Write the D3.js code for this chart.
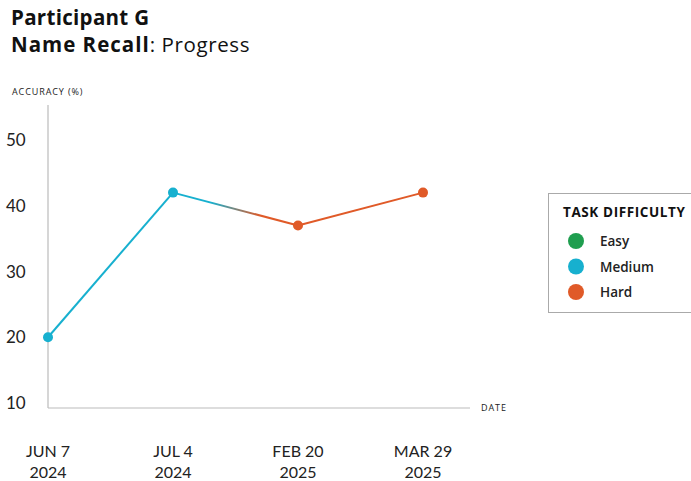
<!DOCTYPE html>
<html><head><meta charset="utf-8">
<script src="https://cdn.jsdelivr.net/npm/d3@7"></script>
<style>body{margin:0;background:#fff;} text{font-family:Lato,"Open Sans",sans-serif;} .os{font-family:"Open Sans",sans-serif;}</style>
</head><body><svg id="c" width="691" height="481"></svg>
<script>
const dates = ["JUN 7|2024","JUL 4|2024","FEB 20|2025","MAR 29|2025"];
const accuracy = [20, 42, 37, 42];
const difficulty = ["Medium","Medium","Hard","Hard"];
const yTicks = [10,20,30,40,50];
const legendItems = ["Easy","Medium","Hard"];
const colors = {Easy:"#1f9e4f", Medium:"#17b0cf", Hard:"#e05a28"};

const svg = d3.select("#c");
const x = d3.scalePoint().domain(dates).range([48,423]);
const y = d3.scaleLinear().domain([10,50]).range([403,140]);

// title
svg.append("text").attr("class","os").attr("x",11).attr("y",25).attr("font-size",20.5).attr("letter-spacing",0.3).attr("font-weight",700).attr("fill","#111").text("Participant G");
const t2 = svg.append("text").attr("class","os").attr("x",11).attr("y",52).attr("font-size",20.5).attr("fill","#111");
t2.append("tspan").attr("font-weight",700).attr("letter-spacing",1.0).text("Name Recall");
t2.append("tspan").attr("font-weight",400).attr("letter-spacing",0.6).text(": Progress");

svg.append("text").attr("class","os").attr("x",12).attr("y",95).attr("font-size",9).attr("letter-spacing",0.9).attr("fill","#222").text("ACCURACY (%)");

// axes lines
svg.append("line").attr("x1",48).attr("x2",48).attr("y1",105).attr("y2",408).attr("stroke","#bbb").attr("stroke-width",1.2);
svg.append("line").attr("x1",48).attr("x2",470).attr("y1",408).attr("y2",408).attr("stroke","#bbb").attr("stroke-width",1.2);
svg.append("text").attr("class","os").attr("x",481).attr("y",411).attr("font-size",9).attr("letter-spacing",0.9).attr("fill","#222").text("DATE");

// y ticks
svg.selectAll(".yt").data(yTicks).enter().append("text")
  .attr("x",6).attr("y",d=>y(d)+6).attr("font-size",17).attr("fill","#222").text(d=>d);

// x labels
const xl = svg.selectAll(".xl").data(dates).enter().append("text")
  .attr("text-anchor","middle").attr("font-size",16).attr("fill","#222");
xl.append("tspan").attr("x",d=>x(d)).attr("y",457).text(d=>d.split("|")[0]);
xl.append("tspan").attr("x",d=>x(d)).attr("y",478).text(d=>d.split("|")[1]);

// segments
const defs = svg.append("defs");
for (let i=0;i<dates.length-1;i++){
  const x1=x(dates[i]), y1=y(accuracy[i]), x2=x(dates[i+1]), y2=y(accuracy[i+1]);
  const c1=colors[difficulty[i]], c2=colors[difficulty[i+1]];
  let stroke=c1;
  if(c1!==c2){
    const g=defs.append("linearGradient").attr("id","g"+i).attr("gradientUnits","userSpaceOnUse")
      .attr("x1",x1).attr("y1",y1).attr("x2",x2).attr("y2",y2);
    g.append("stop").attr("offset","0.3").attr("stop-color",c1);
    g.append("stop").attr("offset","0.7").attr("stop-color",c2);
    stroke="url(#g"+i+")";
  }
  svg.append("line").attr("x1",x1).attr("y1",y1).attr("x2",x2).attr("y2",y2)
    .attr("stroke",stroke).attr("stroke-width",2);
}
svg.selectAll(".pt").data(accuracy).enter().append("circle")
  .attr("cx",(d,i)=>x(dates[i])).attr("cy",d=>y(d)).attr("r",5)
  .attr("fill",(d,i)=>colors[difficulty[i]]);

// legend
const lg = svg.append("g");
lg.append("rect").attr("x",548.5).attr("y",193.5).attr("width",150).attr("height",119)
  .attr("fill","#fff").attr("stroke","#aaa").attr("stroke-width",1);
lg.append("text").attr("class","os").attr("x",563).attr("y",217).attr("font-size",13.5).attr("letter-spacing",0.6).attr("font-weight",700).attr("fill","#111").text("TASK DIFFICULTY");
legendItems.forEach((k,i)=>{
  lg.append("circle").attr("cx",576).attr("cy",241+i*25.5).attr("r",8).attr("fill",colors[k]);
  lg.append("text").attr("class","os").attr("x",600).attr("y",246+i*25.5).attr("font-size",13.5).attr("font-weight",600).attr("fill","#222").text(k);
});
</script></body></html>
